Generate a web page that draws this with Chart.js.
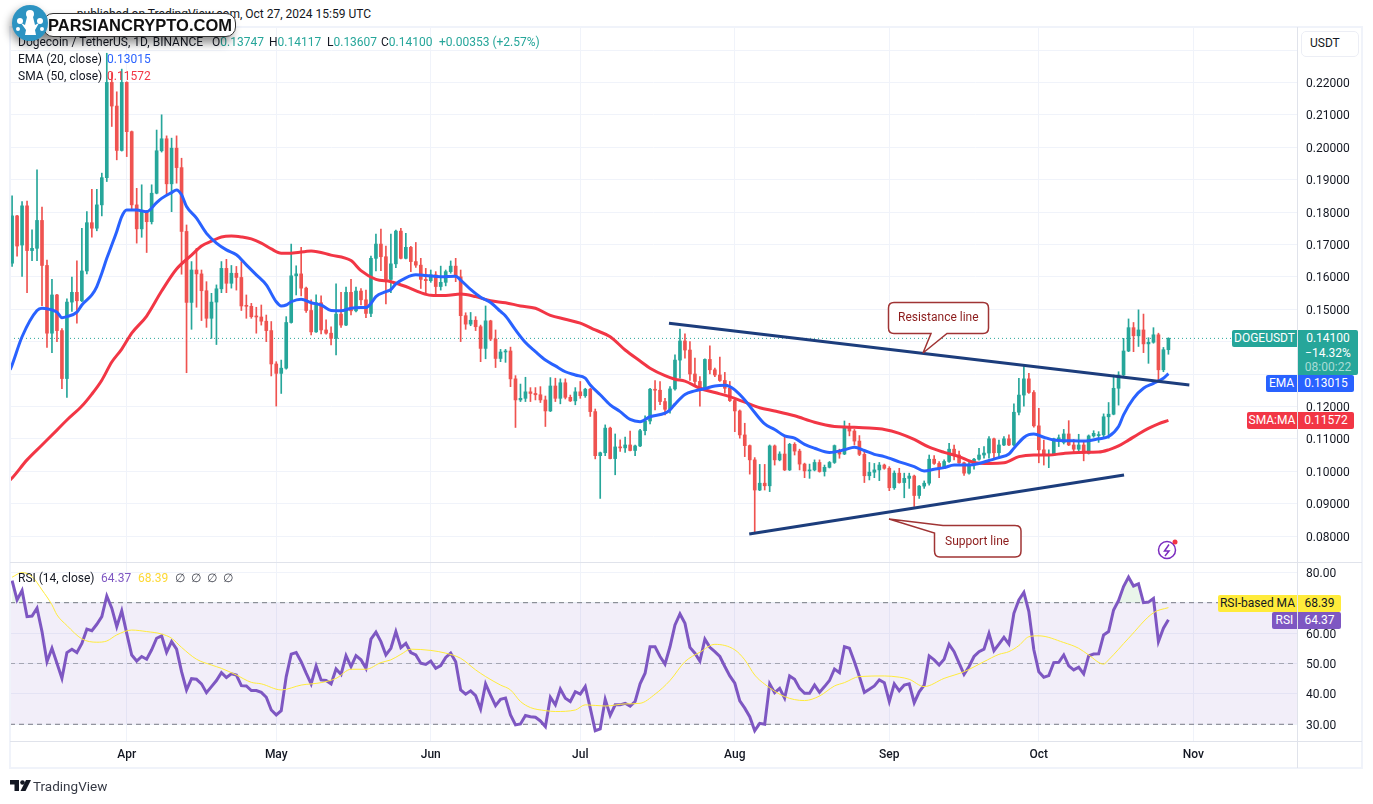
<!DOCTYPE html>
<html><head><meta charset="utf-8"><title>DOGEUSDT</title>
<script src="https://cdn.jsdelivr.net/npm/chart.js@4/dist/chart.umd.js"></script>
<style>
html,body{margin:0;padding:0;background:#fff;width:1373px;height:804px;overflow:hidden;font-family:Roboto,sans-serif;font-size:12px;color:#131722}
canvas{position:absolute;display:block}
.a{position:absolute;white-space:nowrap;pointer-events:none}
.tag{position:absolute;color:#fff;font-size:12px;line-height:17px;text-align:center;white-space:nowrap;pointer-events:none}
</style></head><body>
<canvas id="main" width="1353" height="535" style="left:10px;top:27px"></canvas>
<canvas id="rsi" width="1353" height="205" style="left:10px;top:563px"></canvas>

<div class="a" style="left:9px;top:26px;width:1354px;height:743px;box-sizing:border-box;border:2px solid #f0f3fa"></div>
<div class="a" style="left:1297px;top:27px;width:1px;height:741px;background:#e0e3eb"></div>
<div class="a" style="left:10px;top:562px;width:1352px;height:1px;background:#e0e3eb"></div>
<div class="a" style="left:10px;top:741px;width:1352px;height:1px;background:#e0e3eb"></div>

<div class="a" style="right:1002px;top:7px;color:#131722">published on TradingView.com, Oct 27, 2024 15:59 UTC</div>
<div class="a" style="left:18px;top:35px">Dogecoin / TetherUS, 1D, BINANCE</div>
<div class="a" style="left:212px;top:35px">O<span style="color:#26a69a">0.13747</span></div>
<div class="a" style="left:269px;top:35px">H<span style="color:#26a69a">0.14117</span></div>
<div class="a" style="left:327px;top:35px">L<span style="color:#26a69a">0.13607</span></div>
<div class="a" style="left:381px;top:35px">C<span style="color:#26a69a">0.14100</span></div>
<div class="a" style="left:439px;top:35px;color:#26a69a">+0.00353 (+2.57%)</div>
<div class="a" style="left:18px;top:52px">EMA (20, close)</div><div class="a" style="left:107px;top:52px;color:#2962ff">0.13015</div>
<div class="a" style="left:18px;top:69px">SMA (50, close)</div><div class="a" style="left:107px;top:69px;color:#f23645">0.11572</div>
<div class="a" style="left:18px;top:571px">RSI (14, close)</div><div class="a" style="left:101px;top:571px;color:#7e57c2">64.37</div><div class="a" style="left:138px;top:571px;color:#fdd835">68.39</div><div class="a" style="left:175px;top:571px;color:#434651;word-spacing:3px">∅ ∅ ∅ ∅</div>

<div class="a" style="left:1301px;top:31px;width:58px;height:26px;box-sizing:border-box;border:1.5px solid #eceef5;border-radius:5px;background:#fff;line-height:23px;padding-left:8px">USDT</div>

<div class="tag" style="left:1232px;top:330px;width:65px;height:17px;background:#26a69a;border-radius:2px 0 0 2px">DOGEUSDT</div>
<div class="tag" style="left:1298px;top:330px;width:60px;height:45px;background:#26a69a;border-radius:0 2px 2px 0;line-height:14.500px;padding-top:1px;box-sizing:border-box">0.14100<br>−14.32%<br><span style="color:#a8dcd6">08:00:22</span></div>
<div class="tag" style="left:1266px;top:375px;width:31px;height:17px;background:#2962ff;border-radius:2px 0 0 2px">EMA</div>
<div class="tag" style="left:1298px;top:375px;width:56px;height:17px;background:#2962ff;border-radius:0 2px 2px 0">0.13015</div>
<div class="tag" style="left:1247px;top:412px;width:50px;height:17px;background:#f23645;border-radius:2px 0 0 2px">SMA:MA</div>
<div class="tag" style="left:1298px;top:412px;width:56px;height:17px;background:#f23645;border-radius:0 2px 2px 0">0.11572</div>
<div class="tag" style="left:1218px;top:595px;width:79px;height:17px;background:#ffeb3b;color:#131722;border-radius:2px 0 0 2px">RSI-based MA</div>
<div class="tag" style="left:1298px;top:595px;width:43px;height:17px;background:#ffeb3b;color:#131722;border-radius:0 2px 2px 0">68.39</div>
<div class="tag" style="left:1272px;top:612px;width:25px;height:17px;background:#7e57c2;border-radius:2px 0 0 2px">RSI</div>
<div class="tag" style="left:1298px;top:612px;width:43px;height:17px;background:#7e57c2;border-radius:0 2px 2px 0">64.37</div>

<svg class="a" style="left:0;top:0" width="1373" height="804">
  <path d="M894 302.500H983Q988.500 302.500 988.500 308V328Q988.500 333.500 983 333.500H947L923 353L931 333.500H894Q888.500 333.500 888.500 328V308Q888.500 302.500 894 302.500Z" fill="#fff" stroke="#a03434" stroke-width="1.500"/>
  <path d="M889 519L943 525.500H1015Q1021 525.500 1021 531V551Q1021 557 1015 557H940Q934.500 557 934.500 551V533Z" fill="#fff" stroke="#a03434" stroke-width="1.500"/>
  <g fill="none" stroke="#7b2cbf" stroke-width="1.500"><circle cx="1167" cy="550" r="8.500"/><path d="M1169 544.500L1164.500 551H1169L1165 556"/></g>
  <circle cx="1175" cy="542" r="2.500" fill="#f23645"/>
  <g transform="translate(10,780)" fill="#131722"><path d="M0 0H9V11H4.500V4.500H0Z"/><circle cx="12.500" cy="2.500" r="2.300"/><path d="M16 0H21L15.500 11H10.500Z"/></g>
</svg>
<div class="a" style="left:898px;top:310px;color:#8c1c1c">Resistance line</div>
<div class="a" style="left:945px;top:534px;color:#8c1c1c">Support line</div>
<div class="a" style="left:33px;top:778px;font-size:13.500px;color:#363a45">TradingView</div>

<div class="a" style="left:43px;top:13px;width:193px;height:24px;box-sizing:border-box;background:#fff;border:1px solid #333;border-radius:10px;box-shadow:-4px 6px 10px rgba(0,0,0,.45);"></div>
<div class="a" style="left:48px;top:13px;font:700 16.500px/24px 'Liberation Sans',sans-serif;color:#111">PARSIANCRYPTO.COM</div>
<svg class="a" style="left:10px;top:3px;filter:drop-shadow(-2px 4px 4px rgba(0,0,0,.4))" width="40" height="40">
  <circle cx="20" cy="20" r="18" fill="#2c93c2"/>
  <g fill="#fff"><circle cx="20" cy="11" r="4"/><circle cx="10" cy="18" r="3"/><circle cx="30" cy="18" r="3"/><circle cx="8" cy="26" r="2"/><circle cx="32" cy="26" r="2"/><path d="M17 14H23L25 22L29 20L25 27L26 32H15L16 27L11 20L15 22Z"/></g>
</svg>

<script>
// One candle per day, first candle 2024-03-09, last 2024-10-27. Values in ten-thousandths of USDT.
const opens=[1642,1788,1698,1819,1681,1688,1774,1635,1426,1544,
1434,1286,1522,1552,1526,1618,1767,1750,1822,1906,
2200,2127,1990,2200,2048,1822,1748,1799,1770,1858,
1989,2026,1887,1997,1937,1740,1521,1621,1609,1557,
1472,1522,1563,1626,1580,1611,1598,1510,1509,1477,
1476,1463,1434,1331,1302,1318,1459,1603,1609,1565,
1496,1430,1520,1436,1426,1410,1485,1451,1552,1495,
1556,1529,1487,1657,1701,1662,1592,1640,1741,1657,
1691,1647,1636,1592,1588,1606,1570,1583,1616,1633,
1600,1480,1454,1466,1446,1379,1464,1408,1348,1368,
1371,1285,1220,1225,1245,1240,1236,1220,1186,1263,
1225,1273,1228,1217,1245,1233,1253,1184,1048,1057,
1133,1039,1075,1072,1081,1064,1078,1125,1155,1253,
1250,1215,1191,1254,1343,1402,1374,1300,1277,1251,
1345,1313,1297,1280,1256,1218,1186,1112,1079,1035,
942,963,955,1078,1035,1053,1004,1083,1062,1022,
1001,1004,1027,999,1012,1027,1064,1053,1138,1124,
1093,1052,986,997,1004,1019,1009,949,994,965,
978,985,925,954,963,1037,1024,1009,1030,1068,
1050,1026,994,1019,1037,1050,1056,1100,1057,1081,
1100,1081,1182,1235,1285,1243,1140,1066,1048,1050,
1100,1089,1115,1081,1068,1081,1055,1109,1110,1112,
1168,1176,1256,1297,1371,1443,1418,1436,1393,1398,
1421,1313,1375];
const closes=[1788,1695,1819,1681,1688,1774,1635,1426,1544,1434,
1286,1522,1552,1526,1618,1767,1750,1822,1906,2200,
2127,1990,2200,2048,1822,1748,1799,1770,1858,1989,
2026,1887,1997,1937,1740,1521,1621,1609,1557,1472,
1522,1563,1626,1580,1611,1598,1510,1509,1477,1476,
1463,1434,1331,1302,1318,1459,1603,1609,1565,1496,
1430,1520,1436,1426,1410,1485,1451,1552,1495,1556,
1529,1487,1657,1701,1662,1592,1640,1741,1657,1691,
1647,1636,1592,1588,1606,1570,1583,1616,1633,1600,
1480,1454,1466,1446,1379,1464,1408,1348,1368,1371,
1285,1220,1225,1245,1240,1236,1220,1186,1263,1225,
1273,1228,1217,1245,1233,1253,1184,1048,1057,1133,
1039,1075,1072,1081,1064,1078,1125,1155,1253,1250,
1215,1191,1254,1343,1402,1374,1300,1277,1251,1345,
1313,1297,1280,1256,1218,1186,1112,1079,1035,942,
963,955,1078,1035,1053,1004,1083,1062,1022,1001,
1004,1027,999,1012,1027,1079,1053,1138,1124,1093,
1052,986,997,1004,1019,1009,949,994,965,978,
985,925,954,963,1037,1024,1009,1030,1068,1050,
1026,994,1019,1037,1050,1056,1100,1057,1081,1100,
1081,1182,1235,1285,1243,1140,1066,1048,1050,1100,
1102,1115,1081,1068,1081,1055,1109,1117,1112,1168,
1176,1256,1297,1371,1443,1418,1436,1393,1398,1421,
1313,1375,1410];
const highs=[1850,1790,1832,1834,1745,1930,1815,1652,1592,1546,
1440,1532,1599,1649,1750,1801,1870,1870,1920,2290,
2230,2171,2241,2202,2050,1873,1884,1805,1884,2053,
2100,2035,2028,2035,1966,1760,1647,1688,1621,1585,
1549,1575,1647,1654,1635,1632,1647,1544,1518,1506,
1513,1482,1462,1338,1343,1477,1701,1634,1691,1568,
1529,1544,1541,1467,1446,1578,1552,1568,1592,1568,
1564,1559,1664,1732,1747,1695,1732,1744,1750,1734,
1694,1706,1657,1626,1621,1616,1633,1621,1649,1657,
1621,1489,1490,1477,1451,1510,1466,1436,1376,1376,
1383,1295,1269,1290,1258,1258,1261,1232,1289,1287,
1285,1285,1235,1258,1277,1256,1256,1192,1059,1143,
1136,1115,1097,1105,1124,1081,1129,1171,1256,1280,
1277,1225,1261,1359,1439,1424,1400,1349,1292,1347,
1387,1318,1352,1305,1277,1222,1189,1148,1081,1042,
1021,1021,1081,1081,1060,1109,1086,1088,1068,1025,
1022,1035,1035,1019,1030,1081,1068,1155,1148,1129,
1110,1064,1027,1024,1027,1022,1014,1001,1009,994,
994,988,956,970,1050,1048,1030,1035,1086,1081,
1062,1028,1030,1040,1071,1076,1107,1102,1096,1107,
1112,1208,1287,1323,1302,1249,1194,1096,1066,1102,
1112,1129,1156,1098,1114,1094,1112,1125,1122,1177,
1212,1297,1307,1410,1470,1459,1498,1485,1412,1443,
1426,1382,1412];
const lows=[1632,1664,1601,1551,1650,1650,1511,1382,1366,1400,
1255,1228,1493,1457,1523,1609,1722,1742,1788,1894,
2064,1961,1988,1971,1804,1704,1722,1675,1763,1856,
1985,1853,1801,1889,1608,1304,1438,1506,1465,1444,
1410,1391,1551,1551,1565,1559,1496,1472,1472,1426,
1451,1400,1294,1201,1240,1315,1457,1544,1541,1490,
1421,1428,1424,1423,1390,1359,1444,1449,1482,1492,
1513,1474,1477,1618,1619,1516,1551,1628,1655,1655,
1616,1629,1564,1549,1583,1544,1559,1572,1611,1585,
1400,1438,1449,1434,1338,1347,1403,1320,1338,1336,
1261,1135,1215,1215,1215,1220,1212,1138,1184,1215,
1208,1223,1215,1205,1225,1228,1169,1038,916,1048,
1038,989,1061,1058,1063,1048,1076,1112,1146,1189,
1205,1174,1179,1250,1287,1349,1280,1266,1201,1249,
1300,1292,1277,1241,1215,1122,1102,1045,991,808,
940,942,937,1019,1032,1002,1002,1050,1004,980,
978,1001,997,985,1010,1024,1040,1051,1109,1081,
1048,965,973,980,971,1006,940,944,963,918,
947,891,916,947,957,1021,980,1009,1027,1035,
1024,987,991,1006,1034,1040,1040,1040,1040,1079,
1079,1079,1174,1201,1240,1136,1026,1019,1011,1048,
1076,1084,1079,1060,1062,1032,1053,1105,1089,1105,
1102,1174,1204,1295,1369,1369,1385,1366,1333,1395,
1280,1307,1361];
const emaDays=[-0.4,0,2,5,6,8,9,10,11,13,14,16,17,18,19,20,21,22,23,25,27,29,30,32,33,34,35,37,39,41,43,45,47,49,51,53,54,55,56,58,60,62,64,66,68,70,71,72,73,75,76,77,79,81,83,86,89,90,92,94,96,98,99,101,103,105,107,109,111,113,115,116,118,120,122,124,126,128,131,132,133,135,137,139,141,143,144,145,147,149,151,153,155,157,159,161,164,167,169,171,173,175,178,181,183,185,187,189,192,194,196,198,200,201,203,204,205,207,209,212,215,218,220,222,223,225,227,229,231,232];
const emaValues=[1313,1328,1415,1496,1503,1498,1491,1474,1477,1491,1513,1544,1570,1611,1657,1698,1740,1786,1806,1806,1801,1829,1842,1860,1868,1853,1817,1781,1734,1704,1683,1668,1637,1606,1575,1523,1510,1513,1523,1531,1520,1513,1496,1495,1503,1505,1505,1518,1539,1554,1561,1578,1597,1606,1604,1600,1602,1590,1561,1537,1521,1493,1479,1436,1397,1369,1343,1325,1307,1297,1287,1266,1236,1205,1184,1160,1153,1168,1179,1189,1207,1237,1248,1255,1263,1265,1261,1251,1220,1181,1146,1129,1109,1102,1083,1071,1058,1066,1074,1064,1052,1045,1029,1014,1001,1006,1011,1019,1019,1024,1033,1042,1053,1071,1104,1113,1115,1105,1096,1094,1093,1100,1107,1138,1174,1225,1256,1271,1287,1301];
const smaDays=[-0.4,0,3,6,9,11,14,16,18,20,22,24,27,30,33,36,38,40,42,44,46,48,50,52,54,56,60,64,68,70,73,76,79,82,84,87,90,93,96,99,102,105,108,111,114,117,120,123,126,128,131,133,135,138,141,144,147,150,153,157,161,165,168,172,175,178,181,184,187,190,193,196,199,202,205,208,211,214,218,220,222,224,226,228,230,232];
const smaValues=[973,979,1035,1081,1127,1158,1201,1238,1281,1337,1377,1426,1479,1556,1624,1667,1695,1710,1723,1726,1723,1717,1704,1686,1673,1673,1680,1667,1650,1619,1592,1585,1570,1551,1543,1542,1547,1539,1526,1520,1510,1503,1481,1469,1457,1436,1415,1374,1340,1318,1295,1284,1278,1256,1243,1230,1213,1196,1186,1171,1151,1138,1136,1133,1129,1117,1098,1074,1058,1045,1027,1024,1026,1045,1050,1050,1055,1058,1059,1066,1078,1096,1115,1132,1146,1157];
const rsiValues=[77.3,70.9,74.0,65.4,65.6,68.2,60.5,50.6,55.0,50.1,45.1,53.6,54.7,53.6,56.6,61.3,60.8,62.9,65.4,72.2,68.2,62.1,67.3,59.9,52.8,50.8,52.3,51.4,54.5,58.3,59.1,53.7,57.2,54.7,47.3,41.3,45.0,44.8,43.3,40.4,42.4,44.4,47.0,45.4,46.6,46.2,42.7,42.6,41.1,41.1,40.5,38.9,34.7,33.1,34.5,45.7,53.1,53.6,50.6,46.8,43.3,49.2,44.6,44.4,43.3,48.2,46.4,52.6,49.0,52.6,51.2,48.4,58.0,60.3,57.2,52.8,55.0,60.5,55.2,56.6,53.6,52.8,50.1,49.7,50.8,48.4,49.3,52.0,53.4,50.6,41.3,
39.9,41.0,39.4,35.0,43.3,39.6,36.1,38.2,38.6,33.1,29.8,30.1,32.9,32.5,32.3,31.1,29.2,38.9,36.4,41.6,38.6,37.5,40.7,39.9,42.4,35.3,27.9,28.5,38.2,32.9,36.4,36.4,36.9,36.0,37.5,43.3,46.8,55.5,55.5,52.3,49.8,55.5,62.7,66.3,63.2,55.3,53.4,50.8,58.0,55.3,53.9,52.3,49.0,45.9,43.5,37.7,35.3,32.5,27.9,30.3,30.0,43.3,40.4,41.8,38.6,45.9,44.8,41.8,40.2,40.2,42.9,40.5,42.4,44.4,48.2,47.0,55.5,55.0,50.6,45.7,40.5,41.5,42.6,44.6,43.7,37.5,43.3,41.0,42.9,43.3,
37.1,40.7,42.9,52.5,51.2,49.5,51.4,56.3,53.9,50.1,46.4,49.0,52.3,53.9,54.7,59.9,54.2,56.4,58.6,56.4,66.5,70.9,73.4,67.1,54.5,47.3,45.5,46.0,50.3,50.4,52.8,49.2,47.9,48.8,46.6,52.5,53.1,53.2,59.4,60.5,67.6,70.7,75.3,78.4,75.5,76.2,70.0,70.2,71.4,57.2,61.6,64.4];
const rsiMaDays=[0,2,4,6,8,9,11,14,17,19,21,24,27,30,32,34,37,40,42,45,48,50,54,58,62,65,68,71,74,76,78,80,84,87,90,93,95,98,100,102,104,107,109,113,115,119,123,126,129,132,135,138,141,145,147,149,151,155,159,162,165,167,170,175,178,180,183,187,191,195,198,200,202,204,206,211,214,216,219,220,224,229,232];
const rsiMaValues=[78.4,79.9,78.6,74.2,69.3,66.0,62.5,58.1,57.0,57.4,59.4,61.0,60.5,59.7,58.3,55.3,51.4,49.5,48.4,46.2,43.8,43.3,41.3,42.9,43.7,45.1,48.1,48.1,50.3,51.2,53.0,54.7,54.3,53.4,51.7,47.9,45.7,42.9,41.3,37.5,35.5,34.5,34.2,34.7,36.4,36.0,36.7,36.9,39.9,44.4,50.6,53.7,56.3,54.5,51.2,46.2,43.2,39.1,37.8,39.3,42.6,43.7,45.7,45.9,45.5,44.8,42.4,45.1,47.3,50.6,53.0,53.9,55.9,58.8,59.1,56.9,55.0,52.8,49.8,51.2,58.3,66.7,68.39];
const priceTicks=[0.08,0.09,0.10,0.11,0.12,0.13,0.14,0.15,0.16,0.17,0.18,0.19,0.20,0.21,0.22,0.23];
const rsiTicks=[30,40,50,60,70,80];
const rsiLevels=[70,50,30];
const monthDays=[23,53,84,114,145,176,206,237];
const monthLabels=['Apr','May','Jun','Jul','Aug','Sep','Oct','Nov'];
const lastPrice=0.141;
const resistanceDays=[131.8,236.2], resistancePrices=[0.1457,0.1266];
const supportDays=[147.9,223.1], supportPrices=[0.0806,0.0988];

const UP='#26a69a',DOWN='#ef5350',GRID='#f0f3fa',FONT='Roboto,sans-serif';
const X_MIN=-0.42,X_MAX=257.8;
const usdt=v=>v/10000;
const pts=(xs,ys)=>xs.map((x,i)=>({x,y:ys[i]}));
const candleColor=c=>closes[c.dataIndex]>=opens[c.dataIndex]?UP:DOWN;
Chart.defaults.animation=false;
Chart.defaults.font.family=FONT;
Chart.defaults.font.size=12;
const common={responsive:false,animation:false,events:[],layout:{padding:0},plugins:{legend:{display:false},tooltip:{enabled:false}}};
const monthAxis=(h,showLabels)=>({type:'linear',min:X_MIN,max:X_MAX,offset:false,
  grid:{color:GRID,offset:false,drawTicks:false},border:{display:false},
  afterBuildTicks:s=>{s.ticks=monthDays.map(v=>({value:v}));},
  afterFit:s=>{s.height=h;s.paddingLeft=0;s.paddingRight=0;},
  ticks:{display:showLabels,autoSkip:false,maxRotation:0,padding:7,color:'#131722',font:{size:12,weight:'500'},callback:v=>monthLabels[monthDays.indexOf(v)]}});
const valueAxis=(min,max,tickVals,fmt)=>({type:'linear',position:'right',min,max,
  grid:{color:GRID,drawTicks:false},border:{display:false},
  afterBuildTicks:s=>{s.ticks=tickVals.map(v=>({value:v}));},
  afterFit:s=>{s.width=66;s.paddingTop=0;s.paddingBottom=0;},
  ticks:{autoSkip:false,padding:9,labelOffset:1.5,color:'#131722',font:{size:12},callback:fmt}});
const line=(label,data,color,width,extra)=>Object.assign({type:'line',label,data,borderColor:color,borderWidth:width,pointRadius:0,fill:false,tension:0},extra||{});

new Chart(document.getElementById('main'),{type:'bar',
 data:{datasets:[
  line('Last price',pts([X_MIN,X_MAX],[lastPrice,lastPrice]),UP,1,{borderDash:[1,3],order:6}),
  {label:'Wick',data:highs.map((h,i)=>({x:i,y:[usdt(lows[i]),usdt(h)]})),backgroundColor:candleColor,barThickness:1,grouped:false,order:5},
  {label:'Body',data:opens.map((o,i)=>({x:i,y:[usdt(o),usdt(closes[i])]})),backgroundColor:candleColor,barThickness:3,minBarLength:1,grouped:false,order:4},
  line('SMA (50, close)',pts(smaDays,smaValues.map(usdt)),'#f23645',3,{cubicInterpolationMode:'monotone',order:3}),
  line('EMA (20, close)',pts(emaDays,emaValues.map(usdt)),'#2962ff',3,{cubicInterpolationMode:'monotone',order:2}),
  line('Resistance line',pts(resistanceDays,resistancePrices),'#1c3d7c',3,{order:1}),
  line('Support line',pts(supportDays,supportPrices),'#1c3d7c',3,{order:1})
 ]},
 options:Object.assign({},common,{scales:{x:monthAxis(0,false),y:valueAxis(0.07198,0.2371,priceTicks,v=>v.toFixed(5))}})
});

new Chart(document.getElementById('rsi'),{type:'line',
 data:{datasets:[
  line('RSI level 70',pts([X_MIN,X_MAX],[rsiLevels[0],rsiLevels[0]]),'#787b86',1,{borderDash:[5,4],fill:{target:{value:rsiLevels[2]},above:'rgba(126,87,194,0.1)',below:'rgba(0,0,0,0)'},order:5}),
  line('RSI level 50',pts([X_MIN,X_MAX],[rsiLevels[1],rsiLevels[1]]),'rgba(120,123,134,0.6)',1,{borderDash:[5,4],order:4}),
  line('RSI level 30',pts([X_MIN,X_MAX],[rsiLevels[2],rsiLevels[2]]),'#787b86',1,{borderDash:[5,4],order:3}),
  line('RSI',rsiValues.map((y,x)=>({x,y})),'#7e57c2',3,{fill:{target:{value:rsiLevels[0]},above:'rgba(76,175,80,0.12)',below:'rgba(0,0,0,0)'},order:2}),
  line('RSI-based MA',pts(rsiMaDays,rsiMaValues),'#ffeb3b',1,{cubicInterpolationMode:'monotone',order:1})
 ]},
 options:Object.assign({},common,{scales:{x:monthAxis(27,true),y:valueAxis(24.5,83.06,rsiTicks,v=>v.toFixed(2))}})
});
</script>
</body></html>
